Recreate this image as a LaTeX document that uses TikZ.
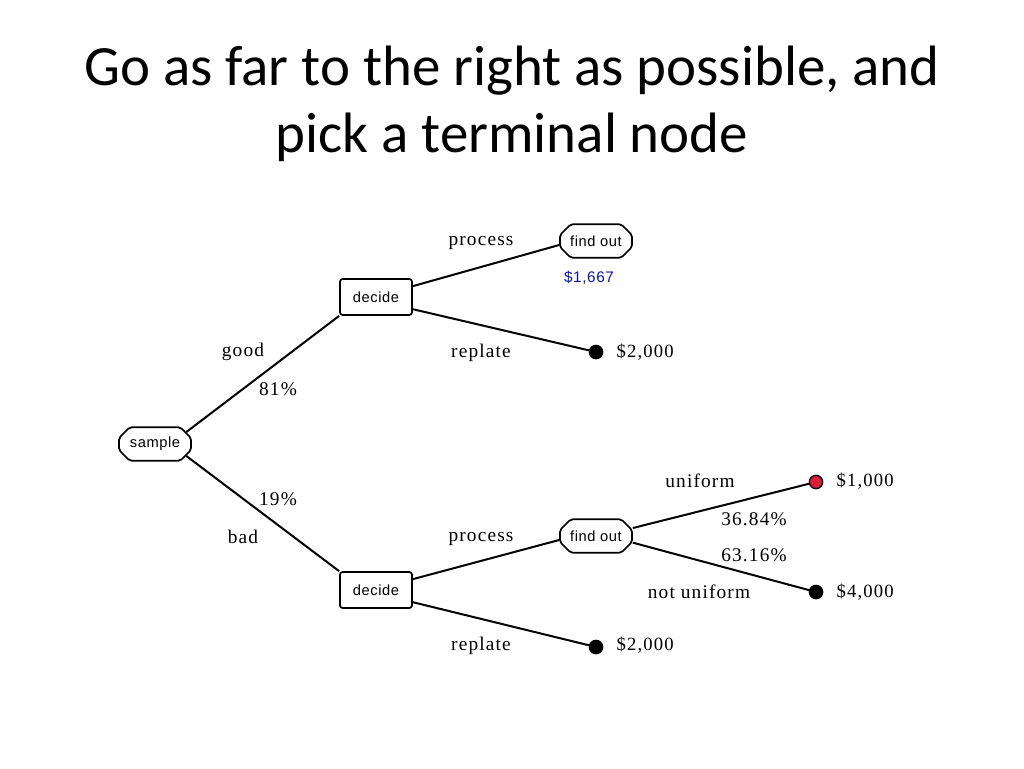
\documentclass[tikz,border=0pt]{standalone}
\usepackage{fontspec}
\setmainfont{Carlito}
\newfontfamily\tms[LetterSpace=6]{Liberation Serif}
\newfontfamily\hel[LetterSpace=4]{Liberation Sans}
\usetikzlibrary{shapes.misc}
\begin{document}
\begin{tikzpicture}[x=0.75pt,y=-0.75pt,
  chance/.style={draw,line width=1.3pt,chamfered rectangle,chamfered rectangle xsep=4pt,chamfered rectangle ysep=4pt,rounded corners=1.5pt,
    minimum width=54pt,minimum height=25pt,inner sep=1pt,font=\hel\fontsize{11}{12}\selectfont},
  decision/.style={draw,line width=1.3pt,rounded corners=2pt,minimum width=54pt,minimum height=27pt,
    inner sep=1pt,font=\hel\fontsize{11}{12}\selectfont},
  term/.style={circle,draw=black,line width=1pt,fill=black,minimum size=10pt,inner sep=0pt},
  branch/.style={line width=1.5pt},
  lbl/.style={font=\tms\fontsize{14.5}{16}\selectfont},
  pay/.style={font=\tms\fontsize{14}{16}\selectfont,anchor=west}]
\useasboundingbox (0,0) rectangle (1024,768);
\node[font=\fontsize{42.7}{50}\selectfont,align=center] (title) at (512,104)
  {Go as far to the right as possible, and\\pick a terminal node};
\node[chance] (sample) at (155,444) {sample};
\node[decision] (d1) at (376,297) {decide};
\node[decision] (d2) at (376,590) {decide};
\node[chance] (f1) at (596,241) {find out};
\node[chance] (f2) at (596,536) {find out};
\node[term] (t1) at (596,352) {};
\node[term] (t2) at (596,647) {};
\node[term,fill={rgb,255:red,220;green,30;blue,60}] (t3) at (816,482) {};
\node[term] (t4) at (816,592) {};
\draw[branch] (sample.north east) -- (d1.south west);
\draw[branch] (sample.south east) -- (d2.north west);
\draw[branch] ([yshift=-6pt]d1.north east) -- ([yshift=-3pt]f1.west);
\draw[branch] ([yshift=5pt]d1.south east) -- (t1);
\draw[branch] ([yshift=-6pt]d2.north east) -- ([yshift=-3pt]f2.west);
\draw[branch] ([yshift=5pt]d2.south east) -- (t2);
\draw[branch] ([yshift=6pt]f2.east) -- (t3);
\draw[branch] ([yshift=-5pt]f2.east) -- (t4);
\node[lbl] (l1) at (481,243) {process};
\node[lbl] (l2) at (481,353) {replate};
\node[lbl] (l3) at (243,352) {good};
\node[lbl] (l4) at (278,389) {81\%};
\node[lbl] (l5) at (278,499) {19\%};
\node[lbl] (l6) at (243,537) {bad};
\node[lbl] (l7) at (481,539) {process};
\node[lbl] (l8) at (481,646) {replate};
\node[lbl] (l9) at (700,481) {uniform};
\node[lbl] (l10) at (754,519) {36.84\%};
\node[lbl] (l11) at (754,555) {63.16\%};
\node[lbl] (l12) at (699,592) {not uniform};
\node[pay] (p1) at (612,352) {\$2,000};
\node[pay] (p2) at (612,645) {\$2,000};
\node[pay] (p3) at (832,481) {\$1,000};
\node[pay] (p4) at (832,592) {\$4,000};
\node[font=\hel\fontsize{11.5}{12}\selectfont,text={rgb,255:red,20;green,20;blue,160}] (v1) at (589,278) {\$1,667};
\end{tikzpicture}
\end{document}
